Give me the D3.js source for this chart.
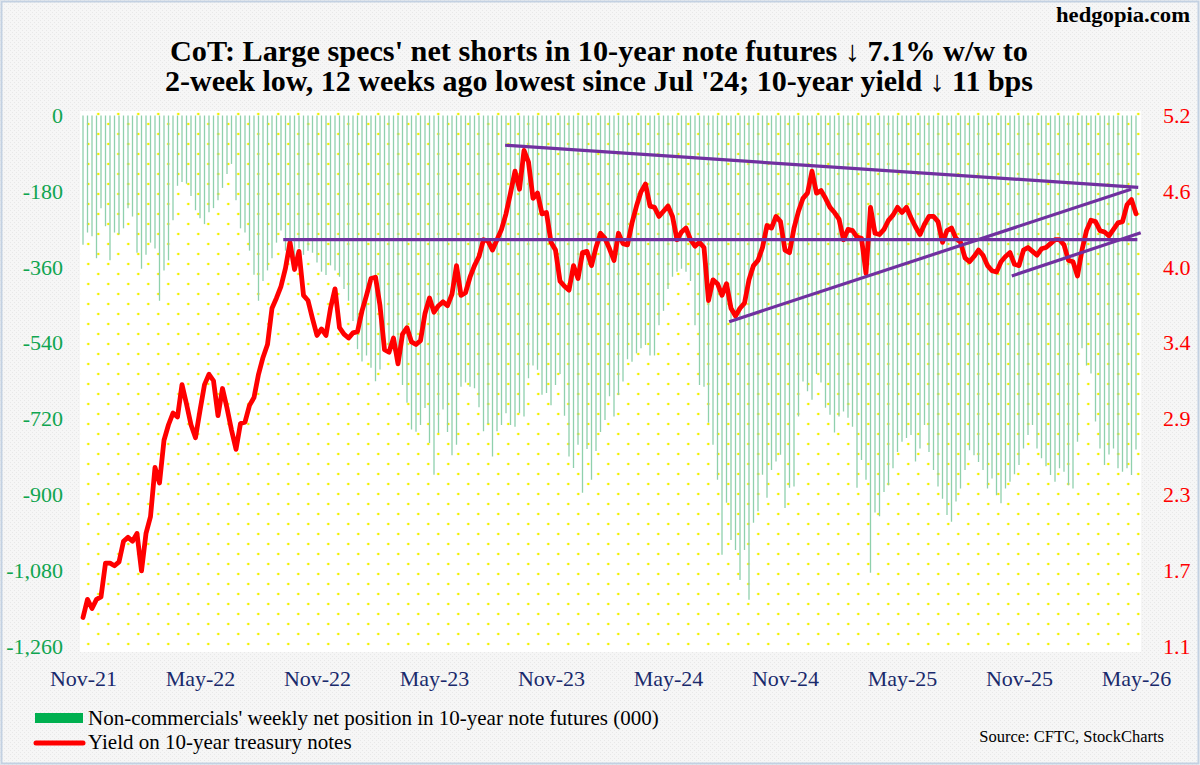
<!DOCTYPE html>
<html lang="en">
<head>
    <meta charset="UTF-8">
    <title>CoT: 10-year note futures net position vs 10-year yield</title>
    <script src="https://d3js.org/d3.v7.min.js"></script>
    <style>
        body { margin: 0; background: #fff; }
        svg { display: block; }
        text { font-family: "Liberation Serif", "Times New Roman", serif; }
    </style>
</head>
<body>
    <svg id="chart"></svg>

    <script>
        const width = 1200;
        const height = 765;

        // Non-commercials' weekly net position in 10-year note futures (000), Nov-21 .. May-26
        const netPosition = [
            -307, -278, -287, -339, -220, -263, -344, -278, -282, -268,
            -220, -240, -326, -364, -331, -302, -316, -440, -368, -344,
            -249, -167, -158, -162, -191, -225, -244, -258, -230, -220,
            -201, -172, -139, -115, -201, -268, -278, -321, -378, -440,
            -393, -368, -339, -302, -273, -321, -336, -339, -316, -331,
            -321, -326, -349, -371, -379, -356, -368, -383, -412, -440,
            -488, -555, -584, -570, -599, -631, -603, -555, -565, -560,
            -594, -640, -682, -746, -751, -735, -695, -778, -853, -754,
            -698, -752, -807, -782, -644, -634, -644, -648, -693, -750,
            -733, -810, -750, -735, -707, -735, -739, -707, -715, -624,
            -594, -604, -663, -659, -688, -640, -614, -713, -810, -837,
            -782, -896, -792, -865, -797, -752, -723, -667, -715, -664,
            -632, -579, -585, -565, -553, -545, -570, -570, -498, -464,
            -412, -383, -371, -364, -371, -393, -498, -640, -644, -730,
            -782, -865, -1043, -920, -1008, -1032, -1103, -1032, -1150, -967,
            -940, -853, -908, -842, -822, -806, -932, -884, -881, -715,
            -632, -655, -675, -614, -634, -694, -711, -753, -715, -703,
            -718, -739, -884, -818, -865, -1086, -943, -952, -894, -878,
            -838, -799, -775, -766, -759, -822, -791, -735, -799, -842,
            -881, -910, -949, -965, -917, -886, -842, -795, -807, -823,
            -842, -886, -862, -902, -921, -886, -870, -852, -830, -791,
            -759, -735, -791, -814, -833, -854, -870, -838, -846, -878,
            -886, -775, -553, -594, -613, -727, -791, -830, -805, -791,
            -838, -846, -838, -854, -793
        ];

        // Yield on 10-year treasury notes (%), same weeks
        const yield10 = [
            1.32, 1.46, 1.39, 1.46, 1.48, 1.74, 1.74, 1.72, 1.75, 1.91,
            1.94, 1.91, 1.97, 1.68, 1.97, 2.10, 2.48, 2.36, 2.69, 2.81,
            2.90, 2.87, 3.12, 2.97, 2.81, 2.71, 2.92, 3.12, 3.20, 3.15,
            2.88, 3.09, 2.94, 2.77, 2.62, 2.82, 2.83, 2.96, 3.02, 3.20,
            3.33, 3.43, 3.71, 3.79, 3.88, 4.02, 4.22, 4.01, 4.15, 3.81,
            3.77, 3.63, 3.50, 3.55, 3.50, 3.71, 3.86, 3.56, 3.51, 3.48,
            3.52, 3.53, 3.69, 3.81, 3.94, 3.95, 3.73, 3.39, 3.37, 3.48,
            3.28, 3.51, 3.56, 3.45, 3.43, 3.46, 3.67, 3.79, 3.68, 3.73,
            3.76, 3.73, 3.82, 4.04, 3.81, 3.83, 3.95, 4.04, 4.11, 4.24,
            4.23, 4.16, 4.24, 4.32, 4.44, 4.60, 4.77, 4.63, 4.93, 4.84,
            4.56, 4.60, 4.44, 4.45, 4.22, 4.16, 3.92, 3.88, 3.85, 4.04,
            3.94, 4.14, 4.15, 4.04, 4.18, 4.29, 4.25, 4.17, 4.08, 4.29,
            4.21, 4.20, 4.37, 4.50, 4.61, 4.67, 4.50, 4.49, 4.42, 4.46,
            4.50, 4.42, 4.24, 4.30, 4.33, 4.24, 4.19, 4.22, 4.18, 3.77,
            3.93, 3.90, 3.81, 3.90, 3.71, 3.65, 3.71, 3.75, 3.93, 4.04,
            4.08, 4.18, 4.35, 4.33, 4.42, 4.38, 4.16, 4.14, 4.33, 4.46,
            4.56, 4.60, 4.77, 4.60, 4.62, 4.56, 4.49, 4.45, 4.40, 4.24,
            4.32, 4.31, 4.26, 4.25, 3.98, 4.49, 4.29, 4.28, 4.32, 4.39,
            4.43, 4.49, 4.45, 4.49, 4.41, 4.34, 4.28, 4.36, 4.42, 4.42,
            4.38, 4.22, 4.31, 4.33, 4.25, 4.22, 4.10, 4.07, 4.11, 4.16,
            4.12, 4.04, 4.00, 3.99, 4.07, 4.11, 4.14, 4.05, 4.04, 4.16,
            4.18, 4.15, 4.12, 4.17, 4.18, 4.21, 4.24, 4.24, 4.20, 4.08,
            4.07, 3.96, 4.16, 4.31, 4.39, 4.38, 4.31, 4.30, 4.27, 4.32,
            4.37, 4.38, 4.51, 4.55, 4.44
        ];

        // a label every 26 weeks
        const xTickLabels = ["Nov-21", "May-22", "Nov-22", "May-23", "Nov-23",
                             "May-24", "Nov-24", "May-25", "Nov-25", "May-26"];
        const xTickStep = 26;
        const leftTicks = d3.range(0, -1261, -180);
        const rightTicks = d3.range(8).map(k => 1.1 + k * 4.1 / 7);

        // hand drawn trend lines, in (week index, yield)
        const trendLines = [
            { x1: 93.8, y1: 4.97, x2: 234.5, y2: 4.645 },
            { x1: 44.5, y1: 4.24, x2: 234.3, y2: 4.24 },
            { x1: 143.6, y1: 3.606, x2: 232.9, y2: 4.63 },
            { x1: 206.4, y1: 3.96, x2: 235.05, y2: 4.294 }
        ];

        const plot = { left: 80, right: 1141, top: 111, bottom: 652 };

        const x = d3.scaleLinear().domain([0, netPosition.length - 1]).range([83, 1136]);
        const yL = d3.scaleLinear().domain([-1260, 0]).range([646, 115.5]);
        const yR = d3.scaleLinear().domain([1.1, 5.2]).range([646, 115.5]);

        const svg = d3.select("#chart")
            .attr("width", width)
            .attr("height", height);

        // patterns: grey paper texture outside, yellow dots inside the plot
        const defs = svg.append("defs");
        const paper = defs.append("pattern")
            .attr("id", "paper")
            .attr("patternUnits", "userSpaceOnUse")
            .attr("width", 4).attr("height", 4);
        paper.append("rect").attr("width", 4).attr("height", 4).attr("fill", "#f6f6f6");
        paper.append("rect").attr("x", 0).attr("y", 0).attr("width", 1).attr("height", 1).attr("fill", "#e8e8e8");
        paper.append("rect").attr("x", 2).attr("y", 2).attr("width", 1).attr("height", 1).attr("fill", "#e8e8e8");

        const dots = defs.append("pattern")
            .attr("id", "dots")
            .attr("patternUnits", "userSpaceOnUse")
            .attr("x", 83.3).attr("y", 119)
            .attr("width", 20).attr("height", 20);
        dots.append("rect").attr("width", 20).attr("height", 20).attr("fill", "#fff");
        dots.append("circle").attr("cx", 5).attr("cy", 5).attr("r", 1.3).attr("fill", "#f0f000");
        dots.append("circle").attr("cx", 15).attr("cy", 15).attr("r", 1.3).attr("fill", "#f0f000");

        svg.append("rect")
            .attr("width", width).attr("height", height)
            .attr("fill", "url(#paper)");
        svg.append("rect")
            .attr("x", 1.5).attr("y", 1.5)
            .attr("width", width - 3).attr("height", height - 3)
            .attr("fill", "none")
            .attr("stroke", "#c3d1e2")
            .attr("stroke-width", 2);

        svg.append("rect")
            .attr("x", plot.left).attr("y", plot.top)
            .attr("width", plot.right - plot.left)
            .attr("height", plot.bottom - plot.top)
            .attr("fill", "url(#dots)");

        // weekly net position, thin bars hanging from zero
        svg.append("g")
            .selectAll("line")
            .data(netPosition)
            .join("line")
            .attr("x1", (d, i) => x(i))
            .attr("x2", (d, i) => x(i))
            .attr("y1", yL(0))
            .attr("y2", d => yL(d))
            .attr("stroke", "#8fd0ad")
            .attr("stroke-width", 1.3);

        // 10-year yield
        const line = d3.line()
            .x((d, i) => x(i))
            .y(d => yR(d));

        svg.append("path")
            .datum(yield10)
            .attr("d", line)
            .attr("fill", "none")
            .attr("stroke", "#ff0000")
            .attr("stroke-width", 4.8)
            .attr("stroke-linejoin", "round")
            .attr("stroke-linecap", "round");

        svg.append("g")
            .selectAll("line")
            .data(trendLines)
            .join("line")
            .attr("x1", d => x(d.x1))
            .attr("y1", d => yR(d.y1))
            .attr("x2", d => x(d.x2))
            .attr("y2", d => yR(d.y2))
            .attr("stroke", "#7030a0")
            .attr("stroke-width", 3.2);

        // axes
        const fmt = d3.formatLocale({ decimal: ".", thousands: ",", grouping: [3], currency: ["$", ""], minus: "-" }).format(",");

        const leftAxis = svg.append("g")
            .attr("transform", "translate(63,0)")
            .call(d3.axisLeft(yL).tickValues(leftTicks).tickFormat(fmt).tickSize(0).tickPadding(0));

        const rightAxis = svg.append("g")
            .attr("transform", "translate(1163,0)")
            .call(d3.axisRight(yR).tickValues(rightTicks).tickFormat(d3.format(".1f")).tickSize(0).tickPadding(0));

        const bottomAxis = svg.append("g")
            .attr("transform", "translate(0,655)")
            .call(d3.axisBottom(x)
                .tickValues(xTickLabels.map((d, k) => k * xTickStep))
                .tickFormat((d, k) => xTickLabels[k])
                .tickSize(0).tickPadding(15));

        [leftAxis, rightAxis, bottomAxis].forEach(a => {
            a.select(".domain").remove();
            a.selectAll("text")
                .style("font-family", '"Liberation Serif", "Times New Roman", serif')
                .style("font-size", "22px");
        });
        leftAxis.selectAll("text").attr("fill", "#10a550");
        rightAxis.selectAll("text").attr("fill", "#ff0000");
        bottomAxis.selectAll("text").attr("fill", "#1a2a6c");

        // title and site name
        svg.append("text")
            .attr("x", 1190).attr("y", 22)
            .attr("text-anchor", "end")
            .attr("font-weight", "bold")
            .attr("font-size", 20)
            .attr("textLength", 134)
            .attr("lengthAdjust", "spacingAndGlyphs")
            .text("hedgopia.com");

        const titleLines = [
            { text: "CoT: Large specs' net shorts in 10-year note futures \u2193 7.1% w/w to", y: 61, w: 858 },
            { text: "2-week low, 12 weeks ago lowest since Jul '24; 10-year yield \u2193 11 bps", y: 91, w: 868 }
        ];
        svg.append("g")
            .selectAll("text")
            .data(titleLines)
            .join("text")
            .attr("x", 599)
            .attr("y", d => d.y)
            .attr("text-anchor", "middle")
            .attr("font-weight", "bold")
            .attr("font-size", 29)
            .attr("textLength", d => d.w)
            .attr("lengthAdjust", "spacingAndGlyphs")
            .text(d => d.text);

        // legend
        svg.append("rect")
            .attr("x", 35).attr("y", 713)
            .attr("width", 48).attr("height", 10)
            .attr("fill", "#00b050");
        svg.append("line")
            .attr("x1", 36).attr("x2", 83)
            .attr("y1", 743).attr("y2", 743)
            .attr("stroke", "#ff0000")
            .attr("stroke-width", 5)
            .attr("stroke-linecap", "round");
        svg.append("text")
            .attr("x", 88).attr("y", 725)
            .attr("font-size", 21)
            .text("Non-commercials' weekly net position in 10-year note futures (000)");
        svg.append("text")
            .attr("x", 88).attr("y", 749)
            .attr("font-size", 21)
            .text("Yield on 10-year treasury notes");

        svg.append("text")
            .attr("x", 1164).attr("y", 742)
            .attr("text-anchor", "end")
            .attr("font-size", 16.5)
            .text("Source: CFTC, StockCharts");
    </script>
</body>
</html>
